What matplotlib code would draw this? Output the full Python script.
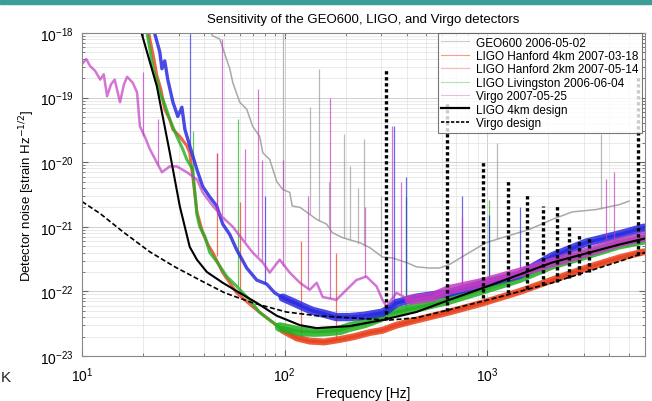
import matplotlib

matplotlib.use("Agg")
import matplotlib.pyplot as plt
import numpy as np
from matplotlib.lines import Line2D
from matplotlib.patches import Rectangle
from matplotlib.ticker import LogLocator, NullFormatter

plt.rcParams["font.family"] = ["Liberation Sans", "DejaVu Sans"]

geo_f = [40, 44.2, 47.8, 53.6, 55.5, 60.0, 65.0, 69.5, 75.3, 78.0, 84.4, 91.4, 97.8, 106,
         109, 119, 128, 144, 161, 172, 193, 209, 234, 262, 304, 340, 399, 447, 518, 580,
         650, 815, 989, 1241, 1611, 2090, 2624, 3444, 4470, 5010]
geo_h = [1.5e-18, 9.0e-19, 8.1e-19, 2.8e-19, 1.7e-19, 8.5e-20, 6.6e-20, 3.6e-20, 2.5e-20,
         1.4e-20, 1.1e-20, 5.0e-21, 3.8e-21, 3.4e-21, 2.1e-21, 2.0e-21, 1.7e-21, 1.3e-21,
         1.1e-21, 8.1e-22, 6.8e-22, 6.3e-22, 5.7e-22, 4.8e-22, 3.4e-22, 3.3e-22, 2.8e-22,
         2.4e-22, 2.3e-22, 2.3e-22, 2.6e-22, 4.0e-22, 5.7e-22, 7.1e-22, 9.1e-22, 1.3e-21,
         1.7e-21, 1.85e-21, 2.2e-21, 2.5e-21]
geo_lines_f = [97.8, 133, 147, 165, 197, 209, 230, 247, 300, 1120, 3650]
geo_lines_base = [3.8e-21, 1.6e-21, 1.25e-21, 1.0e-21, 6.7e-22, 6.3e-22, 5.5e-22, 5.0e-22,
                  3.4e-22, 6.5e-22, 1.9e-21]
geo_lines_top = [1.2e-18, 7.1e-20, 2.8e-19, 5.0e-21, 2.7e-20, 8.6e-21, 4.0e-21, 2.3e-20,
                 3.0e-21, 2.0e-20, 2.7e-20]

h1_f = [21, 21.6, 22.4, 23.4, 24.5, 25.6, 27.1, 28.1, 30.4, 32.9, 34.0, 35.6, 36.9, 39.4,
        41.8, 44.2, 49.5, 58.0, 69.5, 84.4, 97.8, 115, 133, 157, 187, 221, 262, 304, 356,
        447, 650, 945, 1438, 2090, 3075, 4470, 5930]
h1_h = [1.5e-18, 8.1e-19, 4.7e-19, 2.2e-19, 1.35e-19, 6.6e-20, 4.6e-20, 3.2e-20, 2.5e-20,
        1.8e-20, 1.4e-20, 4.5e-21, 1.7e-21, 8.1e-22, 5.3e-22, 4.0e-22, 1.95e-22, 9.5e-23,
        5.8e-23, 3.6e-23, 2.5e-23, 1.9e-23, 1.7e-23, 1.65e-23, 1.8e-23, 2.0e-23, 2.3e-23,
        2.5e-23, 3.0e-23, 3.6e-23, 4.8e-23, 6.6e-23, 9.9e-23, 1.5e-22, 2.3e-22, 3.3e-22,
        4.1e-22]
h1_lines_f = [46.2, 60.0, 120, 180]
h1_lines_base = [3.5e-22, 9.0e-23, 2.0e-23, 1.8e-23]
h1_lines_top = [1.4e-20, 2.4e-21, 6.0e-22, 4.0e-22]

h2_f = [22, 24.2, 24.8, 25.6, 26.5, 28.1, 29.7, 31.1, 32.2, 34.0, 36.9, 39.4, 42.7, 46.2,
        49.5, 53.6, 58.0, 65.0, 72.8, 81.5, 89.3, 97.8, 109, 123, 137, 157, 180, 209, 248,
        304, 322, 356, 447, 650, 945, 1438, 2090, 3075, 4470, 5930]
h2_h = [1.5e-18, 5.1e-19, 2.8e-19, 3.7e-19, 1.9e-19, 8.5e-20, 5.1e-20, 7.1e-20, 3.2e-20,
        1.8e-20, 7.7e-21, 4.2e-21, 2.9e-21, 2.1e-21, 1.1e-21, 7.6e-22, 4.4e-22, 2.3e-22,
        1.5e-22, 1.3e-22, 9.5e-23, 8.0e-23, 6.9e-23, 5.8e-23, 5.0e-23, 4.5e-23, 4.0e-23,
        4.0e-23, 4.2e-23, 4.7e-23, 5.2e-23, 6.6e-23, 8.0e-23, 9.5e-23, 1.3e-22, 1.8e-22,
        3.5e-22, 5.7e-22, 7.6e-22, 9.7e-22]
h2_lines_f = [34.0, 79.7, 345, 395, 753, 1020, 1450]
h2_lines_base = [1.8e-20, 1.3e-22, 6.0e-23, 7.0e-23, 1.1e-22, 1.4e-22, 1.9e-22]
h2_lines_top = [1.2e-18, 3.0e-21, 3.6e-20, 6.0e-21, 3.0e-21, 1.5e-21, 2.0e-21]

l1_f = [20.5, 21.6, 22.4, 23.4, 24.2, 25.6, 27.1, 29.4, 31.4, 32.9, 35.2, 36.9, 38.1, 40.4,
        42.7, 46.2, 51.8, 58.0, 62.1, 67.3, 75.3, 84.4, 94.5, 106, 119, 141, 161, 187, 209,
        248, 294, 322, 356, 447, 650, 945, 1438, 2090, 3075, 4470, 5930]
l1_h = [1.5e-18, 5.7e-19, 2.8e-19, 1.9e-19, 1.2e-19, 7.9e-20, 4.6e-20, 2.5e-20, 1.6e-20,
        1.1e-20, 7.7e-21, 1.55e-21, 1.0e-21, 7.1e-22, 4.0e-22, 2.9e-22, 1.7e-22, 1.2e-22,
        9.5e-23, 7.4e-23, 4.7e-23, 3.6e-23, 2.8e-23, 2.6e-23, 2.4e-23, 2.35e-23, 2.4e-23,
        2.5e-23, 2.8e-23, 3.2e-23, 3.9e-23, 4.5e-23, 4.8e-23, 5.6e-23, 7.4e-23, 1.06e-22,
        1.6e-22, 2.6e-22, 3.7e-22, 5.3e-22, 6.3e-22]
l1_lines_f = [35.2, 58.8, 399, 1020]
l1_lines_base = [7.7e-21, 1.2e-22, 5.0e-23, 1.1e-22]
l1_lines_top = [3.0e-20, 4.6e-20, 2.9e-21, 2.6e-21]

virgo_f = [10, 10.5, 10.95, 11.6, 12.3, 12.8, 13.3, 13.9, 14.5, 15.4, 16.1, 16.7, 17.8, 18.7,
           19.3, 20.4, 21.6, 23.4, 24.8, 27.1, 29.4, 32.9, 36.9, 39.4, 44.2, 49.5, 55.5,
           62.1, 69.5, 78.0, 84.4, 94.5, 106, 119, 133, 144, 154, 180, 202, 226, 253, 284,
           304, 318, 356, 413, 536, 650, 945, 1438, 2090, 3075, 4470, 5930]
virgo_h = [3.3e-19, 3.95e-19, 3.1e-19, 2.6e-19, 1.9e-19, 2.3e-19, 1.05e-19, 1.6e-19, 1.9e-19,
           8.5e-20, 1.6e-19, 2.1e-19, 1.7e-19, 1.2e-19, 3.6e-20, 2.5e-20, 1.6e-20, 9.9e-21,
           7.0e-21, 8.6e-21, 8.6e-21, 7.0e-21, 5.4e-21, 3.4e-21, 2.1e-21, 1.4e-21, 1.0e-21,
           6.3e-22, 4.0e-22, 2.8e-22, 1.95e-22, 3.1e-22, 1.95e-22, 1.36e-22, 1.06e-22,
           1.36e-22, 8.2e-23, 7.4e-23, 1.06e-22, 1.5e-22, 1.7e-22, 1.2e-22, 7.4e-23, 5.8e-23,
           9.5e-23, 7.4e-23, 8.2e-23, 1.06e-22, 1.36e-22, 1.95e-22, 2.8e-22, 4.0e-22, 5.7e-22,
           7.0e-22]
virgo_lines_f = [20.0, 23.7, 46.2, 49.0, 63.5, 73.6, 77.0, 97.8, 130, 167, 250, 340, 377,
                 753, 3855, 4225]
virgo_lines_base = [2.5e-20, 9.0e-21, 1.8e-21, 1.5e-21, 6.0e-22, 3.5e-22, 3.0e-22, 2.5e-22,
                    1.1e-22, 8.0e-23, 1.7e-22, 7.0e-23, 9.0e-23, 1.2e-22, 4.6e-22, 5.0e-22]
virgo_lines_top = [2.5e-19, 4.6e-20, 1.4e-20, 8.1e-19, 1.6e-20, 1.35e-19, 1.1e-20, 1.1e-20,
                   3.0e-21, 1.0e-19, 2.0e-21, 3.6e-20, 4.9e-21, 1.4e-21, 5.4e-21, 7.0e-21]

# ---- design curves ----
ligo_design_f = [19.5, 23.4, 27.1, 30.4, 34.0, 36.9, 41.3, 49.5, 60.0, 72.8, 91.4, 119, 144,
                 209, 304, 447, 650, 989, 2090, 4470, 6000]
ligo_design_h = [1.1e-18, 1.5e-19, 1.42e-20, 2.06e-21, 4.9e-22, 3.1e-22, 2.0e-22, 1.36e-22,
                 9.5e-23, 6.65e-23, 4.2e-23, 3.0e-23, 2.7e-23, 2.9e-23, 3.6e-23, 4.8e-23,
                 7.4e-23, 1.18e-22, 2.8e-22, 5.3e-22, 6.6e-22]

virgo_design_f = [10, 12.3, 15.9, 21.6, 28.7, 38.1, 50.6, 69.5, 102, 144, 209, 329, 447, 650,
                  1146, 2090, 4470, 6000]
virgo_design_h = [2.46e-21, 1.6e-21, 8.4e-22, 4.1e-22, 2.4e-22, 1.5e-22, 9.5e-23, 6.65e-23,
                  4.8e-23, 4.2e-23, 3.9e-23, 3.6e-23, 3.9e-23, 5.2e-23, 8.2e-23, 1.36e-22,
                  2.9e-22, 4.0e-22]
virgo_design_lines_f = [318, 635, 955, 1268, 1574, 1888, 2212, 2535, 2838, 3178, 5546]
virgo_design_lines_base = [3.6e-23, 5.0e-23, 7.8e-23, 9.5e-23, 1.1e-22, 1.25e-22, 1.4e-22,
                           1.6e-22, 1.8e-22, 2.0e-22, 3.6e-22]
virgo_design_lines_top = [2.8e-19, 8.5e-20, 1.1e-20, 5.4e-21, 3.2e-21, 2.1e-21, 2.1e-21,
                          1.0e-21, 7.8e-22, 7.0e-22, 2.1e-19]

x_ticks = [10, 100, 1000]
y_ticks = [1e-23, 1e-22, 1e-21, 1e-20, 1e-19, 1e-18]

legend_labels = ["GEO600 2006-05-02", "LIGO Hanford 4km 2007-03-18",
                 "LIGO Hanford 2km 2007-05-14", "LIGO Livingston 2006-06-04",
                 "Virgo 2007-05-25", "LIGO 4km design", "Virgo design"]

C_GEO = "#9a9a9a"
C_H1 = "#e8401a"
C_H2 = "#2a2ae0"
C_L1 = "#22b022"
C_VIRGO = "#c23cc2"


def draw_series(ax, f, h, lf, lbase, ltop, color, lw, alpha=0.85, band_from=None, band_lw=6):
    f = np.asarray(f)
    h = np.asarray(h)
    ax.vlines(lf, lbase, ltop, colors=color, lw=0.9, alpha=0.7)
    ax.plot(f, h, color=color, lw=lw, alpha=alpha)
    if band_from is not None:
        m = f >= band_from
        ax.plot(f[m], h[m], color=color, lw=band_lw, alpha=0.85, solid_capstyle="round")


fig = plt.figure(figsize=(6.52, 4.02), dpi=100)
ax = fig.add_axes([82 / 652, 1 - 357 / 402, 563 / 652, 323 / 402])

draw_series(ax, geo_f, geo_h, geo_lines_f, geo_lines_base, geo_lines_top, C_GEO, 1.1)
draw_series(ax, h1_f, h1_h, h1_lines_f, h1_lines_base, h1_lines_top, C_H1, 2.2, 0.8, 97, 5)
draw_series(ax, l1_f, l1_h, l1_lines_f, l1_lines_base, l1_lines_top, C_L1, 2.2, 0.8, 94, 7)
draw_series(ax, h2_f, h2_h, h2_lines_f, h2_lines_base, h2_lines_top, C_H2, 2.4, 0.85, 97, 6)
draw_series(ax, virgo_f, virgo_h, virgo_lines_f, virgo_lines_base, virgo_lines_top,
            C_VIRGO, 1.8, 0.7, 400, 7)

ax.plot(ligo_design_f, ligo_design_h, color="k", lw=1.5)
ax.plot(virgo_design_f, virgo_design_h, color="k", lw=1.2, ls=(0, (3, 1.5)))
ax.vlines(virgo_design_lines_f, virgo_design_lines_base, virgo_design_lines_top,
          colors="k", lw=2.4, linestyles=(0, (1.0, 0.8)))

ax.set_xscale("log")
ax.set_yscale("log")
ax.set_xlim(10, 6000)
ax.set_ylim(1e-23, 1e-18)
ax.set_xticks(x_ticks)
ax.set_yticks(y_ticks)
ax.xaxis.set_minor_locator(LogLocator(base=10, subs=np.arange(2, 10)))
ax.yaxis.set_minor_locator(LogLocator(base=10, subs=np.arange(2, 10)))
ax.xaxis.set_minor_formatter(NullFormatter())
ax.yaxis.set_minor_formatter(NullFormatter())
ax.grid(True, which="major", color="#c8c8c8", lw=0.6)
ax.grid(True, which="minor", color="#e2e2e2", lw=0.5)
ax.tick_params(which="both", direction="in", top=True, right=True, labelsize=10,
               color="#666666")
ax.tick_params(which="major", length=4)
ax.tick_params(which="minor", length=2)
ax.tick_params(axis="x", which="major", pad=7)
ax.tick_params(axis="y", which="major", pad=6)
for s in ax.spines.values():
    s.set_color("#888888")
    s.set_linewidth(0.8)

ax.set_title("Sensitivity of the GEO600, LIGO, and Virgo detectors", fontsize=9.5, pad=8)
ax.set_xlabel("Frequency [Hz]", fontsize=10, labelpad=1)
ax.set_ylabel("Detector noise [strain Hz$^{-1/2}$]", fontsize=9.5, labelpad=2)

handles = [
    Line2D([], [], color=C_GEO, lw=0.8, alpha=0.5),
    Line2D([], [], color=C_H1, lw=0.8, alpha=0.5),
    Line2D([], [], color=C_H1, lw=0.8, alpha=0.35),
    Line2D([], [], color=C_L1, lw=0.8, alpha=0.35),
    Line2D([], [], color=C_VIRGO, lw=0.8, alpha=0.35),
    Line2D([], [], color="k", lw=1.6),
    Line2D([], [], color="k", lw=1.2, ls=(0, (2, 1))),
]
leg = ax.legend(handles, legend_labels, loc="upper left", bbox_to_anchor=(0.632, 1.0),
                fontsize=8.5, frameon=True, fancybox=False, borderpad=0.3,
                labelspacing=0.12, handlelength=2.3, handletextpad=0.6, borderaxespad=0.0)
leg.get_frame().set_edgecolor("#555555")
leg.get_frame().set_linewidth(0.8)

fig.patches.append(Rectangle((0, 1 - 5 / 402), 1, 5 / 402, transform=fig.transFigure,
                             color="#3c9c98", zorder=10))
fig.text(1 / 652, 1 - 378 / 402, "K", fontsize=11, color="#222222", va="center", ha="left")

fig.savefig("out.png", dpi=100)
